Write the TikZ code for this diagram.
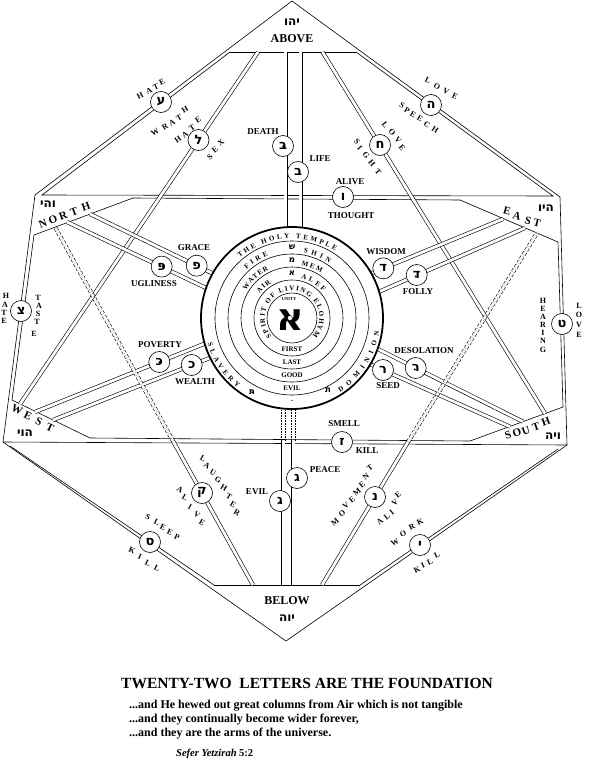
\documentclass[tikz,border=0pt]{standalone}
\usepackage{fontspec}
\setmainfont{Liberation Serif}
\newfontfamily\heb[Script=Hebrew]{DejaVu Sans}
\TeXXeTstate=1
\usetikzlibrary{decorations.text}

\newcommand\ringfont{\bfseries\fontsize{7}{7}\selectfont}
% text on an arc round the hub: radius, start, end, text
\newcommand\ringtext[4]{%
  \path[decorate, decoration={text along path, text align=fit to path,
    text={|\ringfont|#4}}] (hub) ++(#2:#1) arc[start angle=#2, end angle=#3, radius=#1];}
% letters spread one by one: rotation, name, list
\newcommand\spell[3]{%
  \foreach \lt/\x/\y [count=\i] in {#3} \node[spread, rotate=#1] (#2\i) at (\x,\y) {\lt};}

\begin{document}
\begin{tikzpicture}[x=1pt, y=-1pt,
    rim/.style={line width=0.6pt},
    column/.style={double, double distance=2.8pt, line width=0.6pt},
    letter/.style={circle, draw, fill=white, line width=0.6pt, minimum size=21pt, inner sep=0pt,
      font=\heb\bfseries\fontsize{13}{13}\selectfont},
    word/.style={font=\bfseries\fontsize{9}{9}\selectfont, inner sep=0pt},
    spread/.style={font=\bfseries\fontsize{8}{8}\selectfont, inner sep=0pt},
    quarter/.style={font=\bfseries\fontsize{11}{11}\selectfont, inner sep=0pt},
    seal/.style={font=\heb\bfseries\fontsize{12}{12}\selectfont, inner sep=0pt}]
  \useasboundingbox (0,0) rectangle (589,768);

  % Outer hexagon
  \coordinate (T) at (292,1);
  \coordinate (UR) at (560,197);
  \coordinate (LR) at (567,445);
  \coordinate (B) at (286,641);
  \coordinate (LL) at (3,442);
  \coordinate (UL) at (35,195);
  \draw[rim] (T) -- (UR) -- (LR) -- (B) -- (LL) -- (UL) -- cycle;

  % Inner frame
  \coordinate (ab1) at (230,52);
  \coordinate (ab2) at (356,52);
  \coordinate (be1) at (214,585);
  \coordinate (be2) at (360,585);
  \coordinate (nw) at (42,195);
  \coordinate (ne) at (553,196);
  \coordinate (n1) at (34,235);
  \coordinate (n2) at (133,198);
  \coordinate (e1) at (460,200);
  \coordinate (e2) at (558,242);
  \coordinate (w1) at (12,400);
  \coordinate (w2) at (90,438);
  \coordinate (s1) at (470,441);
  \coordinate (s2) at (563,407);
  \coordinate (sw) at (10,446);
  \coordinate (se) at (558,449);
  \draw[rim] (ab1) -- (ab2);
  \draw[rim] (be1) -- (be2);
  \draw[rim] (ab1) -- (nw) -- (ne) -- (ab2);
  \draw[rim] (n1) -- (n2) -- (e1) -- (e2);
  \draw[rim] (n1) -- (w1) -- (w2) -- (s1) -- (s2) -- (e2);
  \draw[rim] (LL) -- (LR);
  \draw[rim] (sw) -- (be1);
  \draw[rim] (se) -- (be2);

  % Columns
  \coordinate (lamTop) at (258,52);
  \coordinate (lamEnd) at (20,404);
  \coordinate (chetTop) at (322.5,52);
  \coordinate (chetEnd) at (545,413.5);
  \coordinate (betTopA) at (285.5,52);
  \coordinate (betTopB) at (300.5,52);
  \coordinate (betEndA) at (285.5,318);
  \coordinate (betEndB) at (300.5,318);
  \coordinate (gimBotA) at (283.3,585);
  \coordinate (gimBotB) at (293.3,585);
  \coordinate (gimMidA) at (283.3,441);
  \coordinate (gimMidB) at (293.3,441);
  \coordinate (pehA) at (90,214);
  \coordinate (pehEndA) at (240,286.7);
  \coordinate (pehB) at (67,222);
  \coordinate (pehEndB) at (240,304);
  \coordinate (dalA) at (503,219);
  \coordinate (dalEndA) at (345,284.1);
  \coordinate (dalB) at (525,228);
  \coordinate (dalEndB) at (345,306.6);
  \coordinate (kafA) at (35,412);
  \coordinate (kafEndA) at (240,329.4);
  \coordinate (kafB) at (53,420);
  \coordinate (kafEndB) at (240,346);
  \coordinate (reshA) at (523,421.7);
  \coordinate (reshEndA) at (345,332.6);
  \coordinate (reshB) at (510,426.7);
  \coordinate (reshEndB) at (345,353);
  \coordinate (qofBot) at (253,585);
  \coordinate (qofMid) at (173,441);
  \coordinate (qofEnd) at (55,227);
  \coordinate (nunBot) at (322,585);
  \coordinate (nunMid) at (408,442);
  \coordinate (nunEnd) at (537,233);

  \draw[column] (lamTop) -- (lamEnd);
  \draw[column] (chetTop) -- (chetEnd);
  \draw[column] (betTopA) -- (betEndA);
  \draw[column] (betTopB) -- (betEndB);
  \draw[column] (gimBotA) -- (gimMidA);
  \draw[column] (gimBotB) -- (gimMidB);
  \foreach \dx in {-1.7,1.7} {
    \draw[rim, densely dotted] ([xshift=\dx pt]gimMidA) -- ++(0,-60);
    \draw[rim, densely dotted] ([xshift=\dx pt]gimMidB) -- ++(0,-60);
  }
  \draw[column] (pehA) -- (pehEndA);
  \draw[column] (pehB) -- (pehEndB);
  \draw[column] (dalA) -- (dalEndA);
  \draw[column] (dalB) -- (dalEndB);
  \draw[column] (kafA) -- (kafEndA);
  \draw[column] (kafB) -- (kafEndB);
  \draw[column] (reshA) -- (reshEndA);
  \draw[column] (reshB) -- (reshEndB);
  \draw[column] (qofBot) -- (qofMid);
  \draw[column, dash pattern=on 3pt off 2pt] (qofMid) -- (qofEnd);
  \draw[column] (nunBot) -- (nunMid);
  \draw[column, dash pattern=on 3pt off 2pt] (nunMid) -- (nunEnd);

  % The temple
  \coordinate (hub) at (292,318);
  \fill[white] (hub) circle[radius=91];
  \draw[line width=1.8pt] (hub) circle[radius=91];
  \foreach \r in {77,64,51,38,25} \draw[rim] (hub) circle[radius=\r];
  \ringtext{79.5}{-131}{-57}{THE HOLY TEMPLE}
  \ringtext{88.3}{-197}{-232}{SLAVERY}
  \ringtext{88.3}{-303}{-351}{DOMINION}
  \ringtext{66.5}{-133}{-111}{FIRE}
  \ringtext{66.5}{-80}{-56}{SHIN}
  \ringtext{53.5}{-149}{-116}{WATER}
  \ringtext{53.5}{-80}{-57}{MEM}
  \ringtext{40.5}{-143}{-121}{AIR}
  \ringtext{40.5}{-77}{-40}{ALEF}
  \ringtext{27.3}{-222}{42}{SPIRIT OF LIVING ELOHYM}
  \node[seal, font=\heb\bfseries\fontsize{8.5}{8.5}\selectfont] (shin) at (292,247.5) {ש};
  \node[seal, font=\heb\bfseries\fontsize{8.5}{8.5}\selectfont] (mem) at (292,260.5) {מ};
  \node[seal, font=\heb\bfseries\fontsize{8.5}{8.5}\selectfont] (alef) at (292,273.5) {א};
  \node[seal, font=\heb\bfseries\fontsize{8.5}{8.5}\selectfont] (tavA) at (252,392) {ת};
  \node[seal, font=\heb\bfseries\fontsize{8.5}{8.5}\selectfont] (tavB) at (328,390) {ת};
  \fill ([shift={(0.3,0.3)}]tavA.center) circle[radius=0.9];
  \node[word, font=\ringfont] (first) at (292,349.5) {FIRST};
  \node[word, font=\ringfont] (last) at (292,362.5) {LAST};
  \node[word, font=\ringfont] (good) at (292,375.5) {GOOD};
  \node[word, font=\ringfont] (evilring) at (292,388.5) {EVIL};
  \node[word, font=\ringfont] (dash) at (292,402) {-};
  \node[word, font=\bfseries\fontsize{4.5}{5}\selectfont] (unity) at (289,299) {UNITY};
  \node[seal, font=\heb\bfseries\fontsize{38}{38}\selectfont] (bigalef) at (290,320) {א};
  \node[circle, draw, fill=white, line width=0.4pt, minimum size=5pt, inner sep=0pt] (eye) at (290,318) {};

  % Letter circles
  \node[letter] (ayin) at (161,102) {ע};
  \node[letter] (he) at (431,105) {ה};
  \node[letter] (lamed) at (198.5,140) {ל};
  \node[letter] (chet) at (380,145) {ח};
  \node[letter] (betA) at (283,146) {ב};
  \node[letter] (betB) at (298,172) {ב};
  \node[letter] (vav) at (343,197) {ו};
  \node[letter] (pehGrace) at (196.7,265.7) {פ};
  \node[letter] (pehUgly) at (161.7,266.6) {פ};
  \node[letter] (dalWise) at (383.3,268.3) {ד};
  \node[letter] (dalFool) at (416.7,275) {ד};
  \node[letter] (tsadi) at (21,311) {צ};
  \node[letter] (tet) at (562,324) {ט};
  \node[letter] (kafPoor) at (159.3,362) {כ};
  \node[letter] (kafRich) at (191.7,365) {כ};
  \node[letter] (reshDes) at (415.7,368) {ר};
  \node[letter] (reshSeed) at (383,370) {ר};
  \node[letter] (zayin) at (342,442) {ז};
  \node[letter] (gimPeace) at (297,478) {ג};
  \node[letter] (gimEvil) at (280,501) {ג};
  \node[letter] (qof) at (202,493) {ק};
  \node[letter] (nun) at (375,497) {נ};
  \node[letter] (samekh) at (150,542) {ס};
  \node[letter] (yod) at (420,545) {י};
  % dagesh dots of the hard letters
  \foreach \n/\dx/\dy in {betA/0.3/0.3, pehUgly/0.8/-0.3, dalFool/-1/1.5, kafPoor/0.3/0.3,
      reshDes/-1/1.5, gimEvil/0/1.5}
    \fill ([shift={(\dx,\dy)}]\n.center) circle[radius=1.2];

  % Words of the double letters
  \node[word] (death) at (263,132) {DEATH};
  \node[word] (life) at (320,159) {LIFE};
  \node[word] (alive) at (350,182) {ALIVE};
  \node[word] (thought) at (351,216) {THOUGHT};
  \node[word] (grace) at (194,248) {GRACE};
  \node[word] (ugliness) at (154,284) {UGLINESS};
  \node[word] (wisdom) at (386,252) {WISDOM};
  \node[word] (folly) at (418,292) {FOLLY};
  \node[word] (poverty) at (160,345) {POVERTY};
  \node[word] (wealth) at (195,382) {WEALTH};
  \node[word] (desolation) at (424,351) {DESOLATION};
  \node[word] (seed) at (388,386) {SEED};
  \node[word] (smell) at (344,424) {SMELL};
  \node[word] (killz) at (367,451) {KILL};
  \node[word] (peace) at (325,470) {PEACE};
  \node[word] (evil) at (257,492) {EVIL};

  % Words of the simple letters
  \spell{25}{ayinA}{H/140/96, A/149/91, T/156/87, E/162/82}
  \spell{30}{ayinB}{W/155/132, R/165/127, A/172/123, T/179/118, H/185/110}
  \spell{35}{lamA}{H/178/140, A/185/135, T/192/128, E/198/120}
  \spell{40}{lamB}{S/210/157, E/215/150, X/221/143}
  \spell{-25}{heA}{L/428/80, O/437/86, V/446/91, E/455/96}
  \spell{-30}{heB}{S/402/105, P/407/110, E/413/115, E/420/119, C/427/125, H/435/130}
  \spell{-50}{chetA}{L/385/125, O/392/132, V/398/140, E/402/148}
  \spell{-50}{chetB}{S/357/142, I/360/148, G/366/155, H/372/163, T/378/172}
  \spell{0}{tsaA}{H/6/296, A/5/305, T/4/313, E/4/321}
  \spell{0}{tsaB}{T/38/298, A/39/306, S/38/314, T/37/322, E/34/334}
  \spell{0}{tetA}{H/543/301, E/543/309, A/543/317, R/543/325, I/543/333, N/543/341, G/543/350}
  \spell{0}{tetB}{L/579/306, O/579/315, V/579/325, E/579/335}
  \spell{-30}{qofA}{L/203/459, A/207/466, U/213/473, G/218/480, H/224/488, T/229/497, E/233/505, R/237/513}
  \spell{-30}{qofB}{A/180/490, L/185/498, I/190/507, V/197/515, E/202/523}
  \spell{40}{nunA}{M/335/522, O/342/513, V/346/506, E/352/500, M/357/492, E/362/485, N/366/477, T/370/468}
  \spell{40}{nunB}{A/380/522, L/387/517, I/392/512, V/395/503, E/398/495}
  \spell{-25}{samA}{S/148/517, L/157/522, E/163/527, E/170/532, P/177/537}
  \spell{-25}{samB}{K/132/550, I/140/557, L/148/563, L/157/568}
  \spell{25}{yodA}{W/395/542, O/403/534, R/412/527, K/420/522}
  \spell{25}{yodB}{K/417/570, I/423/565, L/430/562, L/437/555}

  % Six directions
  \node[quarter, font=\bfseries\fontsize{12}{12}\selectfont] (above) at (292,39) {ABOVE};
  \node[seal] (aboveheb) at (292,22) {\beginR יהו\endR};
  \node[quarter, font=\bfseries\fontsize{12}{12}\selectfont] (below) at (287,601) {BELOW};
  \node[seal] (belowheb) at (287,618) {\beginR יוה\endR};
  \foreach \lt/\x/\y [count=\i] in {N/43/224, O/53/220, R/63/216, T/74/212, H/86/207}
    \node[quarter, rotate=20] (north\i) at (\x,\y) {\lt};
  \node[seal] (northheb) at (48,204) {\beginR והי\endR};
  \foreach \lt/\x/\y [count=\i] in {E/507/211, A/517/216, S/528/221, T/537/223}
    \node[quarter, rotate=-15] (east\i) at (\x,\y) {\lt};
  \node[seal] (eastheb) at (546,208) {\beginR היו\endR};
  \foreach \lt/\x/\y [count=\i] in {W/17/410, E/28/416, S/39/422, T/50/428}
    \node[quarter, rotate=-25] (west\i) at (\x,\y) {\lt};
  \node[seal] (westheb) at (25,433) {\beginR הוי\endR};
  \foreach \lt/\x/\y [count=\i] in {S/508/435, O/517/433, U/526/431, T/536/427, H/546/422}
    \node[quarter, rotate=20] (south\i) at (\x,\y) {\lt};
  \node[seal] (southheb) at (553,436) {\beginR ויה\endR};

  % Caption
  \node[font=\bfseries\fontsize{15.5}{18}\selectfont, inner sep=0pt] (title) at (307,683)
    {TWENTY-TWO\ \ LETTERS ARE THE FOUNDATION};
  \node[anchor=west, font=\bfseries\fontsize{12}{13}\selectfont, inner sep=0pt] (line1) at (129,706)
    {...and He hewed out great columns from Air which is not tangible};
  \node[anchor=west, font=\bfseries\fontsize{12}{13}\selectfont, inner sep=0pt] (line2) at (129,720)
    {...and they continually become wider forever,};
  \node[anchor=west, font=\bfseries\fontsize{12}{13}\selectfont, inner sep=0pt] (line3) at (129,734)
    {...and they are the arms of the universe.};
  \node[anchor=west, font=\bfseries\fontsize{10.5}{12}\selectfont, inner sep=0pt] (source) at (176,754)
    {\textit{Sefer Yetzirah} 5:2};
\end{tikzpicture}
\end{document}
